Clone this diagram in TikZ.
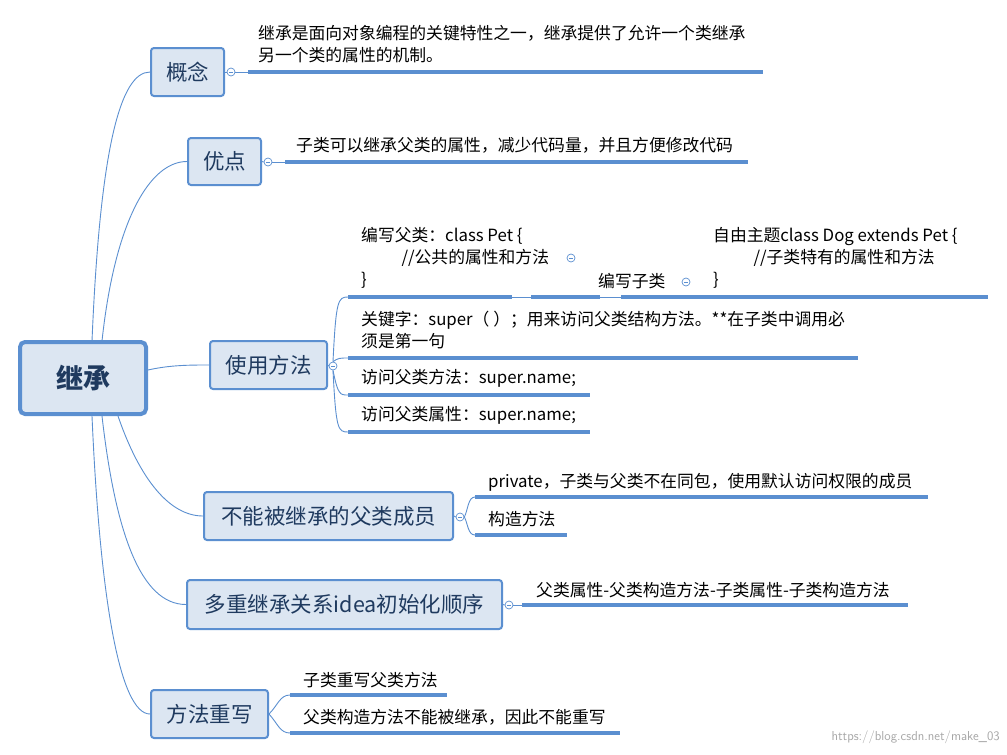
\documentclass[tikz,border=0pt]{standalone}
\usepackage{fontspec}
\setmainfont{Noto Sans CJK SC}
\definecolor{bl}{HTML}{5B8FD0}
\definecolor{bf}{HTML}{DCE6F2}
\definecolor{tx}{HTML}{1F3A5F}
\begin{document}
\begin{tikzpicture}[x=1pt,y=-1pt,
 topic/.style={draw=bl,fill=bf,line width=2pt,rounded corners=3pt,text=tx,font=\fontsize{21.5}{24}\selectfont,inner sep=0pt},
 leaf/.style={anchor=west,font=\fontsize{16.8}{22}\selectfont,inner sep=0pt,align=left},
 ul/.style={draw=bl,line width=3.2pt},
 thin/.style={draw=bl,line width=0.9pt},
 tog/.style={circle,draw=bl,line width=0.7pt,fill=white,minimum size=8pt,inner sep=0pt,path picture={\draw[bl,line width=0.6pt]([xshift=-2pt]path picture bounding box.center)--([xshift=2pt]path picture bounding box.center);}}]
\useasboundingbox (0,0) rectangle (1007,755);
% root
\node[draw=bl,fill=bf,line width=4pt,rounded corners=5pt,text=tx,minimum width=126pt,minimum height=72pt,font=\fontsize{27}{30}\selectfont\bfseries] (root) at (83,378) {继承};
% topics
\node[topic,minimum width=73pt,minimum height=48pt] (t1) at (187.5,72) {概念};
\node[topic,minimum width=73pt,minimum height=47pt] (t2) at (224.5,161.5) {优点};
\node[topic,minimum width=117pt,minimum height=48pt] (t3) at (268.5,365) {使用方法};
\node[topic,minimum width=249pt,minimum height=48pt] (t4) at (328.5,516) {不能被继承的父类成员};
\node[topic,minimum width=315pt,minimum height=49pt] (t5) at (344.5,604.5) {多重继承关系idea初始化顺序};
\node[topic,minimum width=117pt,minimum height=48pt] (t6) at (209.5,714) {方法重写};
% root connectors
\draw[thin] (92,341) .. controls (100,150) and (120,72) .. (t1.west);
\draw[thin] (102,341) .. controls (115,220) and (150,161.5) .. (t2.west);
\draw[thin] (148,370) .. controls (170,365) and (190,365) .. (t3.west);
\draw[thin] (118,416) .. controls (140,480) and (170,516) .. (t4.west);
\draw[thin] (102,416) .. controls (115,530) and (140,604.5) .. (t5.west);
\draw[thin] (92,416) .. controls (100,600) and (120,714) .. (t6.west);
% 概念
\node[tog] (g1) at (231,72) {};
\draw[thin] (t1.east) -- (g1.west);
\coordinate (l1s) at (248,72); \coordinate (l1e) at (763,72);
\draw[thin] (g1.east) -- (l1s); \draw[ul] (l1s) -- (l1e);
\node[leaf] (n1) at (258,44) {继承是面向对象编程的关键特性之一，继承提供了允许一个类继承\\另一个类的属性的机制。};
% 优点
\node[tog] (g2) at (268,162) {};
\draw[thin] (t2.east) -- (g2.west);
\coordinate (l2s) at (285,162); \coordinate (l2e) at (748,162);
\draw[thin] (g2.east) -- (l2s); \draw[ul] (l2s) -- (l2e);
\node[leaf] (n2) at (296,145) {子类可以继承父类的属性，减少代码量，并且方便修改代码};
% 使用方法
\node[tog] (g3) at (333,366) {};
\draw[thin] (t3.east) -- (g3.west);
\coordinate (a1) at (348,297); \coordinate (a1e) at (512,297);
\coordinate (a2) at (348,358); \coordinate (a2e) at (858,358);
\coordinate (a3) at (348,395); \coordinate (a3e) at (590,395);
\coordinate (a4) at (348,432); \coordinate (a4e) at (590,432);
\draw[thin] (g3.north) .. controls (336,300) and (338,297) .. (a1);
\draw[thin] (g3.north) .. controls (338,358) and (340,358) .. (a2);
\draw[thin] (g3.south) .. controls (338,395) and (340,395) .. (a3);
\draw[thin] (g3.south) .. controls (336,430) and (338,432) .. (a4);
\draw[ul] (a1) -- (a1e); \draw[ul] (a2) -- (a2e); \draw[ul] (a3) -- (a3e); \draw[ul] (a4) -- (a4e);
\node[leaf] (p1) at (361,258) {编写父类：class Pet \{\\\hspace{2.4em}//公共的属性和方法\\\}};
\node[tog] (g31) at (571,258) {};
\coordinate (b1) at (531,297); \coordinate (b1e) at (600,297);
\draw[thin] (a1e) -- (b1); \draw[ul] (b1) -- (b1e);
\node[leaf] (p2) at (598,281) {编写子类};
\node[tog] (g32) at (686,282) {};
\coordinate (c1) at (621,297); \coordinate (c1e) at (988,297);
\draw[thin] (b1e) -- (c1); \draw[ul] (c1) -- (c1e);
\node[leaf] (p3) at (713,258) {自由主题class Dog extends Pet \{\\\hspace{2.4em}//子类特有的属性和方法\\\}};
\node[leaf] (p4) at (361,330) {关键字：super（ ）；用来访问父类结构方法。**在子类中调用必\\须是第一句};
\node[leaf] (p5) at (361,378) {访问父类方法：super.name;};
\node[leaf] (p6) at (361,415) {访问父类属性：super.name;};
% 不能被继承
\node[tog] (g4) at (460,517) {};
\draw[thin] (t4.east) -- (g4.west);
\coordinate (d1) at (475,497); \coordinate (d1e) at (928,497);
\coordinate (d2) at (475,535); \coordinate (d2e) at (567,535);
\draw[thin] (g4.east) .. controls (468,510) and (468,497) .. (d1);
\draw[thin] (g4.east) .. controls (468,524) and (468,535) .. (d2);
\draw[ul] (d1) -- (d1e); \draw[ul] (d2) -- (d2e);
\node[leaf] (q1) at (488,482) {private，子类与父类不在同包，使用默认访问权限的成员};
\node[leaf] (q2) at (488,519) {构造方法};
% 多重继承
\node[tog] (g5) at (509,605) {};
\draw[thin] (t5.east) -- (g5.west);
\coordinate (e1) at (522,605); \coordinate (e1e) at (908,605);
\draw[thin] (g5.east) -- (e1); \draw[ul] (e1) -- (e1e);
\node[leaf] (r1) at (536,590) {父类属性-父类构造方法-子类属性-子类构造方法};
% 方法重写
\coordinate (f1) at (290,695); \coordinate (f1e) at (447,695);
\coordinate (f2) at (290,733); \coordinate (f2e) at (620,733);
\draw[thin] (t6.east) .. controls (278,705) and (280,695) .. (f1);
\draw[thin] (t6.east) .. controls (278,724) and (280,733) .. (f2);
\draw[ul] (f1) -- (f1e); \draw[ul] (f2) -- (f2e);
\node[leaf] (s1) at (303,680) {子类重写父类方法};
\node[leaf] (s2) at (303,717) {父类构造方法不能被继承，因此不能重写};
% watermark
\node[anchor=east,text=black!35,font=\fontsize{13}{15}\selectfont\sffamily,inner sep=0pt] (wm) at (1000,737) {https://blog.csdn.net/make\_03};
\end{tikzpicture}
\end{document}
